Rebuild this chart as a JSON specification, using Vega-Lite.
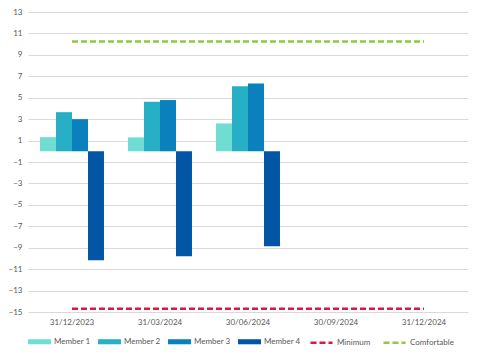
{
  "$schema": "https://vega.github.io/schema/vega-lite/v6.json",
  "width": 440,
  "height": 300,
  "autosize": "none",
  "padding": {"left": 28, "top": 12, "right": 30, "bottom": 43},
  "background": "#ffffff",
  "config": {
    "font": "Lato",
    "view": {"stroke": null},
    "axis": {"labelColor": "#595959", "labelFontSize": 8, "domain": false, "ticks": false, "title": null, "labelOverlap": false},
    "legend": {"labelColor": "#595959", "labelFontSize": 8}
  },
  "datasets": {
    "bars": [
      {"date": "31/12/2023", "member": "Member 1", "value": 1.32},
      {"date": "31/12/2023", "member": "Member 2", "value": 3.65},
      {"date": "31/12/2023", "member": "Member 3", "value": 3.0},
      {"date": "31/12/2023", "member": "Member 4", "value": -10.18},
      {"date": "31/03/2024", "member": "Member 1", "value": 1.3},
      {"date": "31/03/2024", "member": "Member 2", "value": 4.62},
      {"date": "31/03/2024", "member": "Member 3", "value": 4.78},
      {"date": "31/03/2024", "member": "Member 4", "value": -9.8},
      {"date": "30/06/2024", "member": "Member 1", "value": 2.6},
      {"date": "30/06/2024", "member": "Member 2", "value": 6.08},
      {"date": "30/06/2024", "member": "Member 3", "value": 6.33},
      {"date": "30/06/2024", "member": "Member 4", "value": -8.87}
    ],
    "lines": [
      {"date": "31/12/2023", "series": "Minimum", "value": -14.7},
      {"date": "31/03/2024", "series": "Minimum", "value": -14.7},
      {"date": "30/06/2024", "series": "Minimum", "value": -14.7},
      {"date": "30/09/2024", "series": "Minimum", "value": -14.7},
      {"date": "31/12/2024", "series": "Minimum", "value": -14.7},
      {"date": "31/12/2023", "series": "Comfortable", "value": 10.25},
      {"date": "31/03/2024", "series": "Comfortable", "value": 10.25},
      {"date": "30/06/2024", "series": "Comfortable", "value": 10.25},
      {"date": "30/09/2024", "series": "Comfortable", "value": 10.25},
      {"date": "31/12/2024", "series": "Comfortable", "value": 10.25}
    ]
  },
  "layer": [
    {
      "data": {"name": "bars"},
      "mark": {"type": "bar"},
      "encoding": {
        "x": {
          "field": "date", "type": "nominal",
          "sort": ["31/12/2023", "31/03/2024", "30/06/2024", "30/09/2024", "31/12/2024"],
          "scale": {"domain": ["31/12/2023", "31/03/2024", "30/06/2024", "30/09/2024", "31/12/2024"], "paddingInner": 0.273, "paddingOuter": 0.1365},
          "axis": {"labelAngle": 0, "labelPadding": 6, "grid": false}
        },
        "xOffset": {"field": "member", "type": "nominal", "scale": {"paddingInner": 0, "paddingOuter": 0}},
        "y": {
          "field": "value", "type": "quantitative",
          "scale": {"domain": [-15, 13], "nice": false, "zero": false},
          "axis": {"values": [-15, -13, -11, -9, -7, -5, -3, -1, 1, 3, 5, 7, 9, 11, 13], "gridColor": "#D9D9D9", "gridWidth": 1, "labelPadding": 6, "labelOverlap": false}
        },
        "fill": {
          "field": "member", "type": "nominal",
          "scale": {"domain": ["Member 1", "Member 2", "Member 3", "Member 4"], "range": ["#70DDD2", "#26AFC5", "#0A80BD", "#0355A5"]},
          "legend": {"title": null, "orient": "bottom", "direction": "horizontal", "symbolType": "M-1,-0.22H1V0.22H-1Z", "symbolSize": 529, "symbolStrokeWidth": 0, "columnPadding": 7, "labelOffset": 3, "offset": 4}
        }
      }
    },
    {
      "mark": {"type": "rule", "color": "#BFBFBF", "strokeWidth": 1},
      "encoding": {"y": {"datum": 0, "type": "quantitative", "axis": {"values": [-15, -13, -11, -9, -7, -5, -3, -1, 1, 3, 5, 7, 9, 11, 13], "gridColor": "#D9D9D9", "gridWidth": 1, "labelPadding": 6, "labelOverlap": false}}}
    },
    {
      "data": {"name": "lines"},
      "mark": {"type": "line", "strokeDash": [6, 3], "strokeWidth": 2.5},
      "encoding": {
        "x": {"field": "date", "type": "nominal", "sort": ["31/12/2023", "31/03/2024", "30/06/2024", "30/09/2024", "31/12/2024"]},
        "y": {"field": "value", "type": "quantitative", "axis": {"values": [-15, -13, -11, -9, -7, -5, -3, -1, 1, 3, 5, 7, 9, 11, 13], "gridColor": "#D9D9D9", "gridWidth": 1, "labelPadding": 6, "labelOverlap": false}},
        "stroke": {
          "field": "series", "type": "nominal",
          "scale": {"domain": ["Minimum", "Comfortable"], "range": ["#E0163F", "#92C83E"]},
          "legend": {"title": null, "orient": "bottom", "direction": "horizontal", "symbolType": "stroke", "symbolSize": 484, "symbolDash": [6, 3], "symbolStrokeWidth": 2.5, "columnPadding": 7, "labelOffset": 3, "offset": 4}
        }
      }
    }
  ]
}
